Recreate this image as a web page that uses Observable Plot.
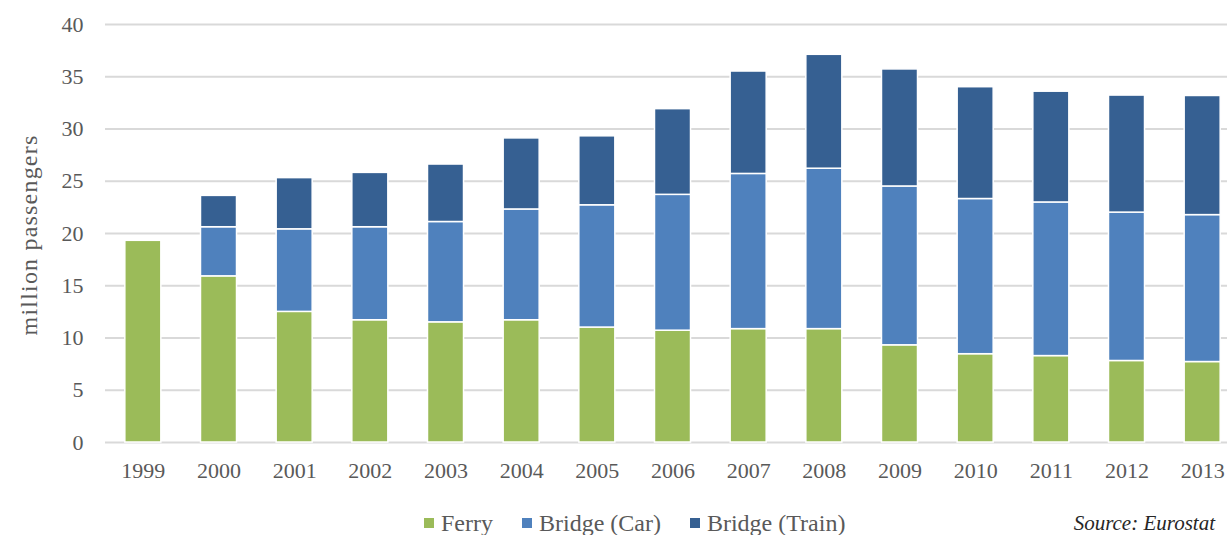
<!DOCTYPE html>
<html><head><meta charset="utf-8">
<script src="https://cdn.jsdelivr.net/npm/d3@7"></script>
<script src="https://cdn.jsdelivr.net/npm/@observablehq/plot@0.6"></script>
<style>
html,body{margin:0;padding:0;background:#fff;overflow:hidden;width:1227px;height:535px}
#wrap{position:relative;width:1227px;height:535px;overflow:hidden;background:#fff}
#wrap svg{max-width:none !important;position:absolute;left:0;top:0}
.ylab{position:absolute;left:29px;top:235px;transform:translate(-50%,-50%) rotate(-90deg);white-space:nowrap;font-family:"Liberation Serif",serif;font-size:24px;letter-spacing:1.2px;color:#595959}
.legend{position:absolute;top:509px;left:424px;display:flex;align-items:center;font-family:"Liberation Serif",serif;font-size:24px;line-height:28px;color:#595959;white-space:nowrap}
.legend .item{display:flex;align-items:center;margin-right:29px}
.legend .sw{width:10px;height:10px;margin-right:7px}
.source{position:absolute;right:12px;top:511px;font-family:"Liberation Serif",serif;font-style:italic;font-size:21px;color:#262626;white-space:nowrap}
</style>
</head><body>
<div id="wrap"></div>
<script>
const years = ["1999","2000","2001","2002","2003","2004","2005","2006","2007","2008","2009","2010","2011","2012","2013"];
const ferry = [19.3,15.9,12.5,11.7,11.5,11.7,11.0,10.7,10.85,10.85,9.3,8.45,8.27,7.8,7.7];
const bridgeCar = [0,4.7,7.9,8.9,9.6,10.6,11.7,13.0,14.85,15.35,15.2,14.85,14.7,14.2,14.06];
const bridgeTrain = [0,3.0,4.9,5.2,5.5,6.8,6.6,8.2,9.8,10.9,11.2,10.7,10.6,11.2,11.4];
const seriesNames = ["Ferry","Bridge (Car)","Bridge (Train)"];
const seriesColors = ["#9bbb59","#4f81bd","#366092"];
const yTicks = [0,5,10,15,20,25,30,35,40];

const rows = [];
years.forEach((y,i)=>{
  rows.push({year:y, series:seriesNames[0], value:ferry[i]});
  if (bridgeCar[i] > 0) rows.push({year:y, series:seriesNames[1], value:bridgeCar[i]});
  if (bridgeTrain[i] > 0) rows.push({year:y, series:seriesNames[2], value:bridgeTrain[i]});
});

const chart = Plot.plot({
  width: 1240,
  height: 492,
  marginLeft: 105,
  marginRight: 0,
  marginTop: 24,
  marginBottom: 50,
  style: {fontFamily: '"Liberation Serif", serif', fontSize: "22px", color: "#595959", background: "white"},
  x: {type: "band", domain: years, paddingInner: 0.524, paddingOuter: 0.262, round: false, label: null},
  y: {domain: [0, 40], label: null},
  color: {domain: seriesNames, range: seriesColors},
  marks: [
    Plot.gridY(yTicks, {stroke: "#d9d9d9", strokeOpacity: 1, strokeWidth: 2}),
    Plot.barY(rows, {x: "year", y: "value", fill: "series", stroke: "white", strokeWidth: 1.5}),
    Plot.axisY(yTicks, {tickSize: 0, tickPadding: 22, label: null, fontSize: 22}),
    Plot.axisX({tickSize: 0, tickPadding: 20, label: null, fontSize: 22})
  ]
});
const wrap = document.getElementById("wrap");
wrap.appendChild(chart);

const yl = document.createElement("div");
yl.className = "ylab"; yl.textContent = "million passengers";
wrap.appendChild(yl);

const lg = document.createElement("div");
lg.className = "legend";
seriesNames.forEach((n,i)=>{
  const it = document.createElement("div"); it.className = "item";
  const sw = document.createElement("span"); sw.className = "sw"; sw.style.background = seriesColors[i];
  const tx = document.createElement("span"); tx.textContent = n;
  it.appendChild(sw); it.appendChild(tx); lg.appendChild(it);
});
wrap.appendChild(lg);

const src = document.createElement("div");
src.className = "source"; src.textContent = "Source: Eurostat";
wrap.appendChild(src);
</script>
</body></html>
